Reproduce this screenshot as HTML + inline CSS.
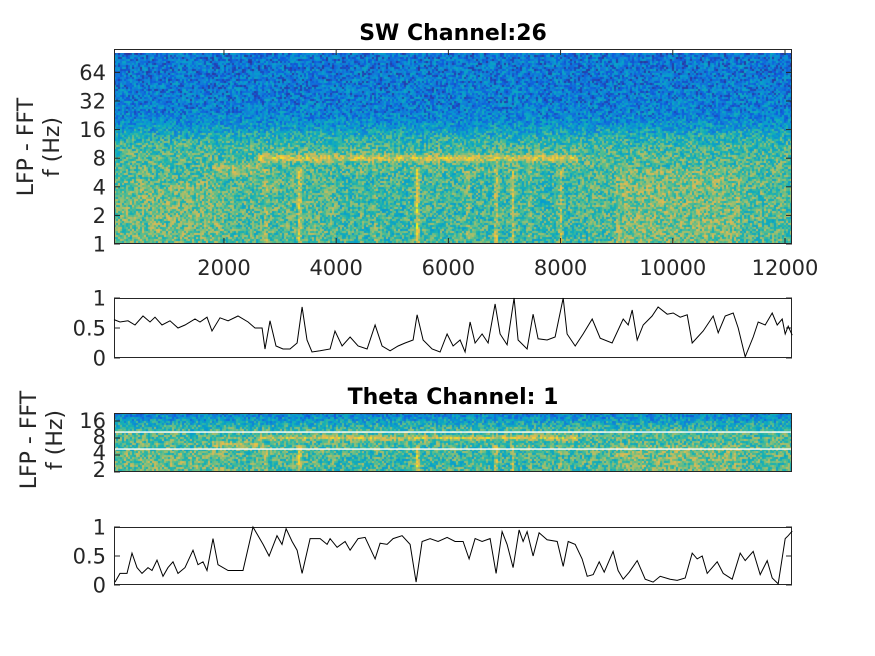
<!DOCTYPE html>
<html><head><meta charset="utf-8">
<style>
html,body{margin:0;padding:0;background:#fff;}
#wrap{position:relative;width:875px;height:656px;overflow:hidden;font-family:"DejaVu Sans","Liberation Sans",sans-serif;}
canvas{position:absolute;}
svg{position:absolute;left:0;top:0;}
</style></head>
<body>
<div id="wrap">
<canvas id="spec1" width="678" height="191" style="left:114px;top:53px;"></canvas>
<canvas id="spec2" width="678" height="59" style="left:114px;top:413px;"></canvas>
<svg id="ov" width="875" height="656"></svg>
</div>
<script>
// ---------- data ----------
const tDomain = [40, 12125];
const xTickValues = [2000, 4000, 6000, 8000, 10000, 12000];
const xTickLabels = ["2000","4000","6000","8000","10000","12000"];
const specTickFreqs = [1,2,4,8,16,32,64];
const specTickLabels = ["1","2","4","8","16","32","64"];
const thetaTickFreqs = [2,4,8,16];
const thetaTickLabels = ["2","4","8","16"];
const lineTickValues = [0,0.5,1];
const lineTickLabels = ["0","0.5","1"];
const thetaBandLines = [5.1, 10.2];
const thetaStart = 2600, thetaEnd = 8300;
const streakTimes = [2750, 3350, 4450, 4700, 5450, 6350, 6850, 7150, 7450, 8000, 8400];
const streakAmps  = [0.15, 0.28, 0.06, 0.12, 0.38, 0.12, 0.28, 0.22, 0.15, 0.22, 0.08];

const swTimes = [40,147,290,414,557,682,771,896,1038,1181,1306,1484,1573,1698,1787,1930,2073,2251,2430,2554,2679,2732,2821,2928,3053,3178,3303,3392,3481,3570,3713,3891,3980,4105,4248,4391,4551,4694,4818,4961,5104,5229,5371,5443,5550,5710,5853,5978,6085,6209,6298,6387,6477,6601,6708,6833,6922,7047,7172,7243,7404,7511,7600,7760,7903,8046,8117,8260,8402,8563,8706,8919,9116,9205,9276,9365,9472,9632,9739,9900,10007,10132,10257,10346,10542,10720,10809,10934,11077,11166,11291,11433,11523,11647,11772,11861,11950,12004,12057,12128];
const swValues = [0.64,0.6,0.62,0.55,0.7,0.6,0.68,0.55,0.62,0.5,0.55,0.65,0.6,0.68,0.45,0.67,0.62,0.7,0.6,0.5,0.5,0.15,0.62,0.2,0.15,0.15,0.25,0.85,0.3,0.1,0.12,0.15,0.45,0.2,0.35,0.2,0.15,0.55,0.2,0.12,0.2,0.25,0.3,0.72,0.3,0.15,0.1,0.4,0.2,0.3,0.1,0.6,0.25,0.4,0.25,0.9,0.4,0.22,1.0,0.3,0.15,0.73,0.32,0.3,0.35,1.0,0.4,0.2,0.4,0.65,0.33,0.25,0.65,0.55,0.8,0.3,0.55,0.7,0.85,0.73,0.75,0.68,0.72,0.25,0.45,0.7,0.42,0.7,0.75,0.5,0.02,0.35,0.6,0.55,0.75,0.55,0.65,0.4,0.53,0.38];

const thTimes = [58,147,272,361,450,539,646,718,807,914,1003,1092,1181,1306,1449,1538,1627,1698,1805,1894,2073,2162,2340,2518,2697,2804,2946,3035,3107,3214,3303,3392,3535,3713,3838,3891,4016,4159,4248,4391,4515,4694,4783,4908,5015,5175,5318,5425,5532,5674,5817,5978,6120,6263,6370,6477,6601,6744,6851,6958,7047,7154,7261,7332,7404,7511,7618,7760,7939,8046,8135,8260,8384,8474,8581,8688,8777,8937,9026,9116,9223,9365,9508,9650,9775,9953,10078,10221,10346,10435,10524,10613,10791,10898,11059,11202,11291,11433,11558,11683,11772,11879,12004,12057,12128];
const thValues = [0.05,0.2,0.2,0.55,0.3,0.2,0.3,0.25,0.43,0.15,0.3,0.4,0.2,0.3,0.6,0.35,0.4,0.25,0.8,0.35,0.25,0.25,0.25,1.0,0.7,0.5,0.85,0.7,0.97,0.75,0.6,0.2,0.8,0.8,0.7,0.8,0.65,0.75,0.6,0.8,0.82,0.45,0.72,0.7,0.8,0.85,0.7,0.05,0.75,0.8,0.75,0.82,0.75,0.75,0.45,0.8,0.75,0.8,0.2,0.92,0.7,0.3,0.95,0.75,0.92,0.5,0.9,0.78,0.75,0.32,0.75,0.7,0.45,0.15,0.18,0.4,0.22,0.58,0.25,0.1,0.22,0.42,0.1,0.05,0.15,0.1,0.08,0.12,0.55,0.45,0.5,0.2,0.4,0.2,0.1,0.55,0.42,0.58,0.18,0.42,0.12,0.02,0.8,0.85,0.93];

// ---------- geometry ----------
const X0 = 114, X1 = 792;
function xScale(t){ return X0 + (t - tDomain[0]) / (tDomain[1] - tDomain[0]) * (X1 - X0); }
function specY(f){ return 244 - Math.log2(f) * 28.6; }
function thetaY(f){ return 472 - Math.log2(f/2) * 17; }
function line1Y(v){ return 358 - v * 60; }
function line2Y(v){ return 585 - v * 58; }

// ---------- colormap ----------
const parula = [[53,42,135],[15,92,221],[18,125,216],[7,156,207],[21,177,180],[89,189,140],[165,190,107],[225,185,82],[252,206,46],[249,251,14]];
function cmap(v){
  v = Math.max(0, Math.min(0.999, v)); const p = v * 9; const i = Math.floor(p), fr = p - i;
  const a = parula[i], b = parula[Math.min(9, i+1)];
  return [a[0]+(b[0]-a[0])*fr, a[1]+(b[1]-a[1])*fr, a[2]+(b[2]-a[2])*fr];
}
function hash(i,j,s){ let h = (i*374761393 + j*668265263 + s*2147483647) | 0; h = (h ^ (h>>>13)) * 1274126177; h = h ^ (h>>>16); return ((h>>>0) % 10000) / 10000; }
function intensity(t, f){
  const lf = Math.log2(f);
  let v = 0.25 + 0.33/(1+Math.exp((lf-3.9)*4)) - 0.012*Math.max(0, lf-4);
  if (t > thetaStart && t < thetaEnd) v += 0.26*Math.exp(-Math.pow((lf-3)/0.12,2));
  if (t > 1800 && t < 2700) v += 0.12*Math.exp(-Math.pow((lf-2.6)/0.2,2));
  for (let k=0;k<streakTimes.length;k++){
    if (lf < 2.6) v += streakAmps[k]*Math.exp(-Math.pow((t-streakTimes[k])/30,2));
  }
  if (t > 9000 && t < 11200 && lf < 2.6) v += 0.07;
  if (t < 2000 && lf < 2.2) v += 0.05;
  if (t > 4000 && t < 8500 && lf < 2.5) v -= 0.04;
  return v;
}
function drawSpec(id, fLo, fHi, h, seed){
  const c = document.getElementById(id), ctx = c.getContext('2d');
  const W = c.width, img = ctx.createImageData(W, h);
  const cw = 2, ch = 2;
  for (let y=0;y<h;y+=ch){
    const f = fLo * Math.pow(fHi/fLo, 1 - (y+1)/h);
    for (let x=0;x<W;x+=cw){
      const t = tDomain[0] + (x+1)/W*(tDomain[1]-tDomain[0]);
      let v = intensity(t, f) + (hash(x,y,seed)-0.5)*0.4;
      const col = cmap(v*0.93);
      for (let dy=0;dy<ch && y+dy<h;dy++) for (let dx=0;dx<cw && x+dx<W;dx++){
        const o = ((y+dy)*W + x+dx)*4; img.data[o]=col[0]; img.data[o+1]=col[1]; img.data[o+2]=col[2]; img.data[o+3]=255;
      }
    }
  }
  ctx.putImageData(img,0,0);
}
drawSpec('spec1', 1, 102, 191, 1);
drawSpec('spec2', 2, 22, 59, 7);

// ---------- SVG overlay ----------
const NS = "http://www.w3.org/2000/svg", ov = document.getElementById('ov');
const TF = 21;
function mk(tag, attrs, parent){ const e = document.createElementNS(NS, tag); for (const k in attrs) e.setAttribute(k, attrs[k]); (parent||ov).appendChild(e); return e; }
function txt(s, x, y, attrs){ const e = mk('text', Object.assign({x:x, y:y, 'font-size':TF, fill:'#262626', 'font-family':'DejaVu Sans, Liberation Sans, sans-serif'}, attrs)); e.textContent = s; return e; }

function box(y0, y1, name){
  const r = mk('rect', {x:X0+0.5, y:y0+0.5, width:X1-X0-1, height:y1-y0-1, fill:'none', stroke:'#262626', 'stroke-width':1});
   
}
function yTicks(vals, labels, yf, fs, name){
  const g = mk('g', {});  
  vals.forEach((v,i)=>{
    const y = yf(v);
    mk('line', {x1:X0, x2:X0+6, y1:y, y2:y, stroke:'#262626'}, g);
    mk('line', {x1:X1-6, x2:X1, y1:y, y2:y, stroke:'#262626'}, g);
    const t = txt(labels[i], X0-8, y+7.5, {'text-anchor':'end', 'font-size':fs});
    g.appendChild(t);
  });
}

// Top spectrogram
box(49, 244, 'sw-spectrogram-axes');
yTicks(specTickFreqs, specTickLabels, specY, TF, 'sw-y-ticks');
const gx = mk('g', {});  
xTickValues.forEach((v,i)=>{
  const x = xScale(v);
  mk('line', {x1:x, x2:x, y1:244, y2:238, stroke:'#262626'}, gx);
  mk('line', {x1:x, x2:x, y1:49, y2:55, stroke:'#262626'}, gx);
  gx.appendChild(txt(xTickLabels[i], x, 275, {'text-anchor':'middle'}));
});
const t1 = txt('SW Channel:26', 453, 40, {'text-anchor':'middle', 'font-weight':'bold', 'font-size':22, fill:'#000'});
 
const yl1 = txt('LFP - FFT', 0, 0, {'text-anchor':'middle', 'font-size':22, transform:'translate(33,147) rotate(-90)'});
 
const yl1b = txt('f (Hz)', 0, 0, {'text-anchor':'middle', 'font-size':22, transform:'translate(59,147) rotate(-90)'});
 

// Line chart builder
function lineChart(times, vals, yf, y0, y1, name){
  box(y0, y1, name + '-axes');
  yTicks(lineTickValues, lineTickLabels, yf, TF, name + '-y-ticks');
  const d = times.map((t,i)=>(i?'L':'M') + xScale(t).toFixed(1) + ',' + yf(vals[i]).toFixed(1)).join(' ');
  const p = mk('path', {d:d, fill:'none', stroke:'#000', 'stroke-width':1});
   
}
lineChart(swTimes, swValues, line1Y, 298, 358, 'sw-power');

// Theta spectrogram
box(413, 472, 'theta-spectrogram-axes');
thetaBandLines.forEach(f=>{
  const l = mk('line', {x1:X0+1, x2:X1-1, y1:thetaY(f), y2:thetaY(f), stroke:'#fff', 'stroke-width':1.3});
   
});
const gt = mk('g', {});  
const thetaLabelY = [470, 453, 437, 421];
thetaTickFreqs.forEach((v,i)=>{
  const y = thetaY(v);
  mk('line', {x1:X0, x2:X0+6, y1:y, y2:y, stroke:'#262626'}, gt);
  gt.appendChild(txt(thetaTickLabels[i], X0-8, thetaLabelY[i]+7, {'text-anchor':'end', 'font-size':TF}));
});
const t2 = txt('Theta Channel: 1', 453, 404, {'text-anchor':'middle', 'font-weight':'bold', 'font-size':22, fill:'#000'});
 
const yl2 = txt('LFP - FFT', 0, 0, {'text-anchor':'middle', 'font-size':22, transform:'translate(36,440) rotate(-90)'});
 
const yl2b = txt('f (Hz)', 0, 0, {'text-anchor':'middle', 'font-size':22, transform:'translate(62,440) rotate(-90)'});
 

lineChart(thTimes, thValues, line2Y, 527, 585, 'theta-power');
</script>
</body></html>
